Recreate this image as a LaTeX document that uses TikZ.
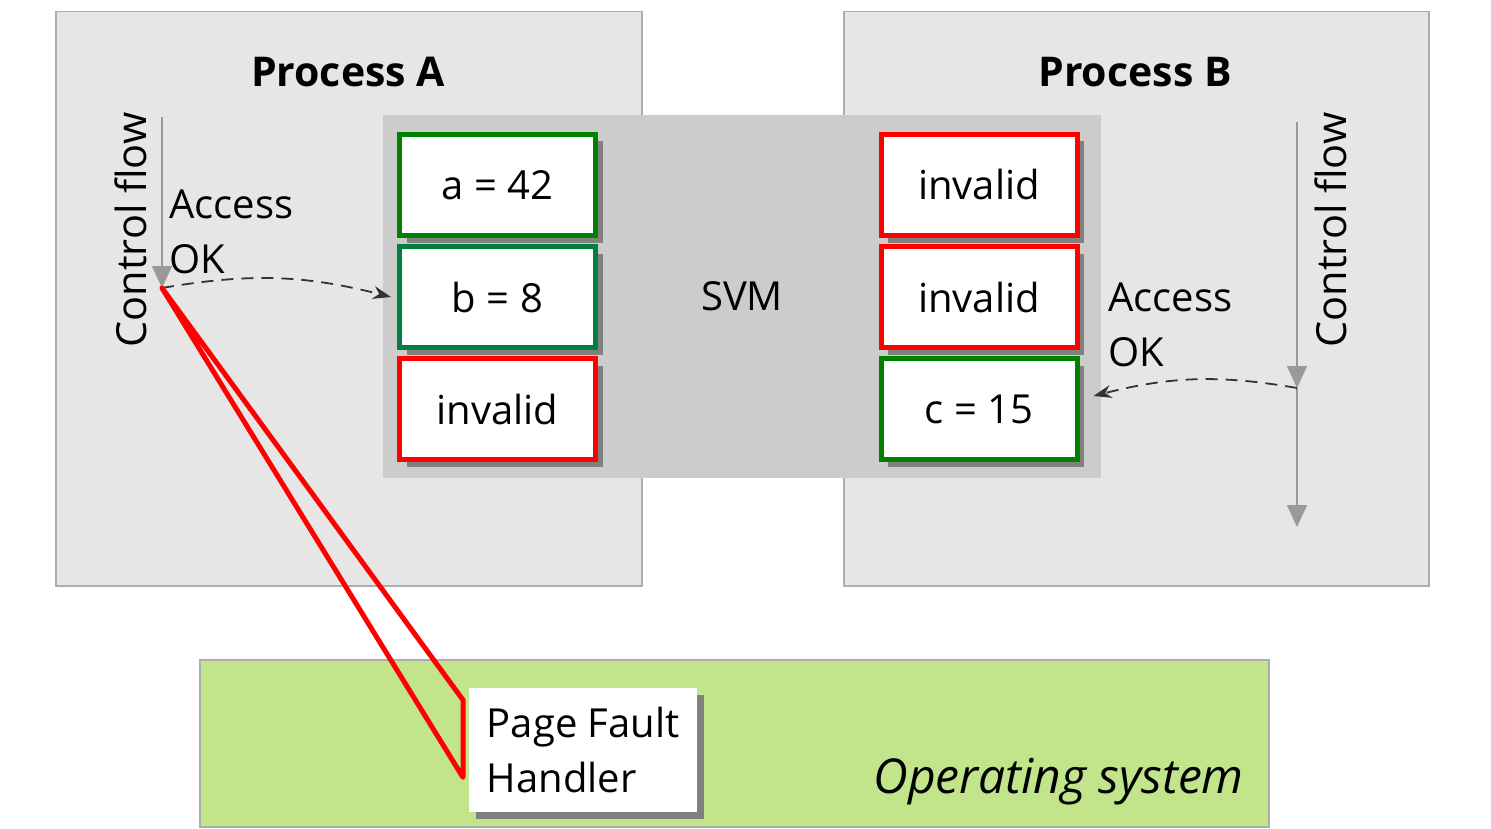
\documentclass[tikz,border=0pt]{standalone}
\usepackage{fontspec}
\setmainfont{Open Sans}
\usepackage{tikz}
\usetikzlibrary{positioning, shadows, arrows, arrows.meta}
\definecolor{procgray}{HTML}{E6E6E6}
\definecolor{framegray}{HTML}{ADADAD}
\definecolor{svmgray}{HTML}{CCCCCC}
\definecolor{okgreen}{HTML}{008000}
\definecolor{okteal}{HTML}{007F3F}
\definecolor{badred}{HTML}{FF0000}
\definecolor{osgreen}{HTML}{C2E58B}
\definecolor{flowgray}{HTML}{999999}
\tikzstyle{cell} = [draw, rectangle, line width=5pt, fill=white, minimum width=196pt, minimum height=101pt, drop shadow={shadow xshift=7pt, shadow yshift=-7pt, fill=black!50, opacity=1}]
\tikzstyle{flow} = [draw=flowgray, line width=1.5pt, -{Triangle[width=20pt, length=22pt]}]
\tikzstyle{access} = [-{Stealth[length=18pt, width=13pt]}, draw=black!80, line width=1.8pt, dash pattern=on 12pt off 8pt]

\begin{document}
\begin{tikzpicture}[x=1pt, y=-1pt, font=\fontsize{40}{55}\selectfont]
    \useasboundingbox (0,0) rectangle (1491,829);

    % Processes
    \node[draw=framegray, fill=procgray, line width=1.5pt, anchor=north west, minimum width=586pt, minimum height=574pt] (procA) at (55,11) {};
    \node[draw=framegray, fill=procgray, line width=1.5pt, anchor=north west, minimum width=585pt, minimum height=574pt] (procB) at (843,11) {};
    \node[font=\fontsize{41}{55}\selectfont\bfseries] (titleA) at (348,72) {Process A};
    \node[font=\fontsize{41}{55}\selectfont\bfseries] (titleB) at (1135,72) {Process B};

    % Operating system
    \node[draw=framegray, fill=osgreen, line width=1.5pt, anchor=north west, minimum width=1069pt, minimum height=167pt] (os) at (199,659) {};
    \node[anchor=base east, inner sep=0, font=\fontsize{48}{55}\selectfont\itshape] (oslabel) at (1244,793) {Operating system};

    % SVM
    \node[fill=svmgray, minimum width=718pt, minimum height=363pt] (svm) at (742,296.5) {SVM};

    % Pages seen by A
    \node[cell, draw=okgreen] (a) at (497.5,185) {a = 42};
    \node[cell, draw=okteal, below=6pt of a] (b) {b = 8};
    \node[cell, draw=badred, below=6pt of b] (invA) {invalid};

    % Pages seen by B
    \node[cell, draw=badred] (invB1) at (979,185) {invalid};
    \node[cell, draw=badred, below=6pt of invB1] (invB2) {invalid};
    \node[cell, draw=okgreen, below=6pt of invB2] (c) {c = 15};

    % Page fault handler
    \node[fill=white, anchor=north west, minimum height=124pt, minimum width=228pt, align=left, drop shadow={shadow xshift=7pt, shadow yshift=-7pt, fill=black!50, opacity=1}] (pfh) at (469,688) {Page Fault\\Handler};

    % Control flow A
    \coordinate (cfA0) at (162,117);
    \coordinate (cfA1) at (162,288);
    \draw[flow] (cfA0) -- (cfA1);
    \node[rotate=90, inner sep=0, font=\fontsize{41.5}{55}\selectfont] (cfAlabel) at (131,230) {Control flow};
    \node[anchor=north west, align=left, inner sep=0] (accA) at (169,190) {Access\\OK};
    \draw[access] (cfA1) to[bend left=12] ([xshift=-6pt]b.west);

    % Control flow B
    \coordinate (cfB0) at (1297,122);
    \coordinate (cfB1) at (1297,388);
    \coordinate (cfB2) at (1297,527);
    \draw[flow] (cfB0) -- (cfB1);
    \draw[flow] (cfB1) -- (cfB2);
    \node[rotate=90, inner sep=0, font=\fontsize{41.5}{55}\selectfont] (cfBlabel) at (1331,230) {Control flow};
    \node[anchor=north west, align=left, inner sep=0] (accB) at (1108,283) {Access\\OK};
    \draw[access] (cfB1) to[bend right=12] ([xshift=14pt, yshift=13pt]c.east);

    % Page fault
    \coordinate (pfTop) at ([xshift=-6pt, yshift=-12pt]pfh.north west);
    \coordinate (pfBot) at ([xshift=-6pt, yshift=35pt]pfh.south west);
    \draw[badred, line width=5pt, line join=round] (cfA1) -- (pfTop) -- (pfBot) -- cycle;

\end{tikzpicture}
\end{document}
